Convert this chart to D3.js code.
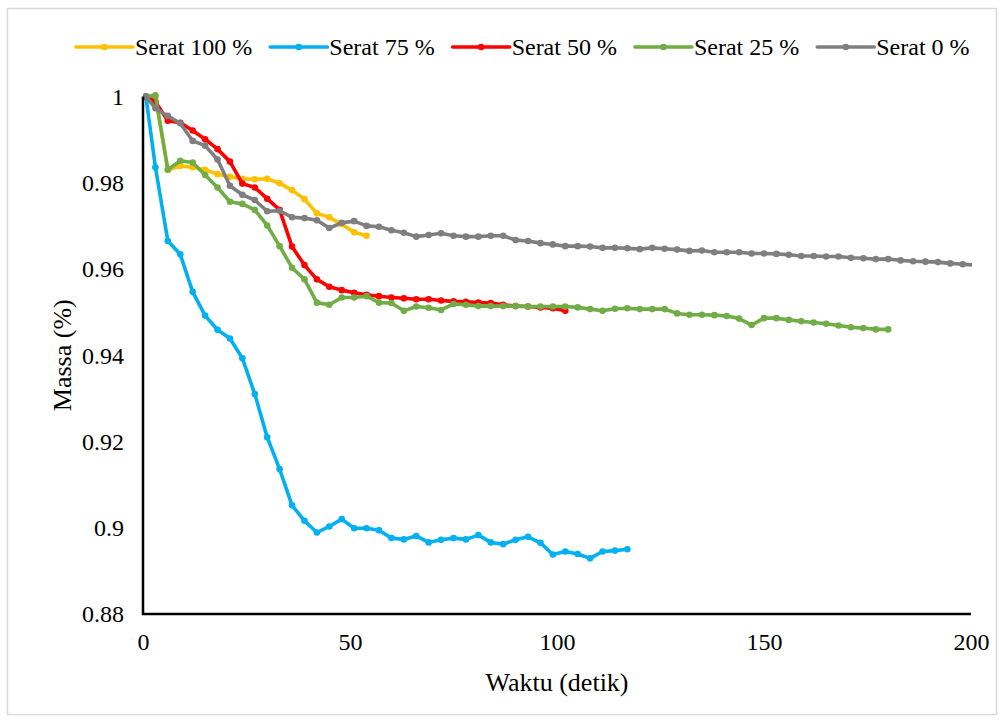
<!DOCTYPE html>
<html>
<head>
<meta charset="utf-8">
<script src="https://cdn.jsdelivr.net/npm/d3@7"></script>
<style>
  html, body { margin: 0; padding: 0; background: #fff; }
  svg { display: block; }
  text { font-family: "Liberation Serif", "Times New Roman", serif; fill: #000; }
</style>
</head>
<body>
<svg id="chart" width="1004" height="722"></svg>
<script>
// ---- data ----
const waktu = [0.7, 3, 6, 9, 12, 15, 18, 21, 24, 27, 30, 33, 36, 39, 42, 45, 48, 51, 54, 57,
  60, 63, 66, 69, 72, 75, 78, 81, 84, 87, 90, 93, 96, 99, 102, 105, 108, 111, 114, 117,
  120, 123, 126, 129, 132, 135, 138, 141, 144, 147, 150, 153, 156, 159, 162, 165, 168, 171, 174, 177,
  180, 183, 186, 189, 192, 195, 198, 201];

const serat100 = [1.0000, 0.9998, 0.9830, 0.9839, 0.9836, 0.9830, 0.9820, 0.9814, 0.9809, 0.9808,
  0.9809, 0.9799, 0.9783, 0.9762, 0.9729, 0.9720, 0.9704, 0.9685, 0.9677];

const serat75 = [1.0000, 0.9836, 0.9665, 0.9634, 0.9547, 0.9492, 0.9459, 0.9439, 0.9393, 0.9310,
  0.9210, 0.9136, 0.9052, 0.9016, 0.8989, 0.9003, 0.9020, 0.8999, 0.8999, 0.8994,
  0.8976, 0.8973, 0.8981, 0.8966, 0.8972, 0.8976, 0.8973, 0.8983, 0.8966, 0.8962,
  0.8972, 0.8979, 0.8965, 0.8938, 0.8945, 0.8939, 0.8929, 0.8945, 0.8947, 0.8950];

const serat50 = [1.0000, 0.9988, 0.9944, 0.9939, 0.9921, 0.9901, 0.9878, 0.9849, 0.9798, 0.9789,
  0.9763, 0.9737, 0.9652, 0.9609, 0.9576, 0.9559, 0.9551, 0.9545, 0.9540, 0.9537,
  0.9534, 0.9532, 0.9530, 0.9530, 0.9527, 0.9525, 0.9524, 0.9522, 0.9521, 0.9517,
  0.9514, 0.9513, 0.9511, 0.9509, 0.9503];

const serat25 = [1.0000, 1.0003, 0.9830, 0.9851, 0.9847, 0.9818, 0.9789, 0.9756, 0.9751, 0.9737,
  0.9701, 0.9653, 0.9603, 0.9576, 0.9522, 0.9517, 0.9534, 0.9534, 0.9537, 0.9522,
  0.9521, 0.9503, 0.9513, 0.9510, 0.9505, 0.9519, 0.9517, 0.9514, 0.9514, 0.9514,
  0.9514, 0.9513, 0.9513, 0.9513, 0.9513, 0.9511, 0.9507, 0.9503, 0.9508, 0.9509,
  0.9507, 0.9507, 0.9507, 0.9497, 0.9494, 0.9494, 0.9493, 0.9491, 0.9485, 0.9470,
  0.9486, 0.9486, 0.9482, 0.9479, 0.9476, 0.9473, 0.9469, 0.9465, 0.9463, 0.9460, 0.9460];

const serat0 = [1.0000, 0.9973, 0.9955, 0.9938, 0.9897, 0.9886, 0.9854, 0.9793, 0.9772, 0.9760,
  0.9734, 0.9735, 0.9720, 0.9718, 0.9713, 0.9695, 0.9707, 0.9711, 0.9700, 0.9698,
  0.9690, 0.9684, 0.9675, 0.9679, 0.9683, 0.9677, 0.9675, 0.9675, 0.9677, 0.9677,
  0.9667, 0.9665, 0.9660, 0.9657, 0.9653, 0.9653, 0.9652, 0.9649, 0.9649, 0.9648,
  0.9646, 0.9649, 0.9647, 0.9645, 0.9642, 0.9643, 0.9639, 0.9639, 0.9639, 0.9636,
  0.9636, 0.9635, 0.9633, 0.9630, 0.9630, 0.9629, 0.9629, 0.9626, 0.9625, 0.9623,
  0.9623, 0.9620, 0.9618, 0.9617, 0.9616, 0.9613, 0.9611, 0.9609];

const seriesNames = ["Serat 100 %", "Serat 75 %", "Serat 50 %", "Serat 25 %", "Serat 0 %"];
const seriesValues = [serat100, serat75, serat50, serat25, serat0];
const seriesColors = ["#FFC000", "#00B0F0", "#FF0000", "#70AD47", "#7F7F7F"];

const xTicks = [0, 50, 100, 150, 200];
const yTicks = [0.88, 0.9, 0.92, 0.94, 0.96, 0.98, 1];
const xTitle = "Waktu (detik)";
const yTitle = "Massa (%)";

// ---- layout ----
const svg = d3.select("#chart");
const W = 1004, H = 722;
const plot = { left: 143, right: 971, top: 96.5, bottom: 614 };

svg.append("rect").attr("x", 0).attr("y", 0).attr("width", W).attr("height", H).attr("fill", "#fff");
svg.append("rect")
  .attr("x", 7.5).attr("y", 8.5).attr("width", 989).attr("height", 706)
  .attr("fill", "none").attr("stroke", "#D9D9D9").attr("stroke-width", 1.5);

const x = d3.scaleLinear().domain([0, 200]).range([plot.left, plot.right]);
const y = d3.scaleLinear().domain([0.88, 1]).range([plot.bottom, plot.top]);

svg.append("defs").append("clipPath").attr("id", "clip")
  .append("rect")
  .attr("x", plot.left).attr("y", plot.top - 20)
  .attr("width", plot.right - plot.left + 1).attr("height", plot.bottom - plot.top + 20);

// axes (no tick marks, labels only)
const xAxis = d3.axisBottom(x).tickValues(xTicks).tickSize(0).tickPadding(0).tickFormat(d3.format("d"));
const yAxis = d3.axisLeft(y).tickValues(yTicks).tickSize(0).tickPadding(0).tickFormat(d => String(+d.toFixed(2)));

const gx = svg.append("g").attr("transform", `translate(0,${plot.bottom})`).call(xAxis);
gx.select(".domain").remove();
gx.selectAll("text")
  .attr("y", 36).attr("dy", null)
  .style("font-family", '"Liberation Serif", "Times New Roman", serif')
  .style("font-size", "24px").attr("fill", "#000");

const gy = svg.append("g").attr("transform", `translate(${plot.left},0)`).call(yAxis);
gy.select(".domain").remove();
gy.selectAll("text")
  .attr("x", -19).attr("dy", "0.33em")
  .style("font-family", '"Liberation Serif", "Times New Roman", serif')
  .style("font-size", "24px").attr("fill", "#000");

// series
const line = d3.line().x(d => x(d[0])).y(d => y(d[1]));
const gSeries = svg.append("g").attr("clip-path", "url(#clip)");
seriesValues.forEach((vals, i) => {
  const pts = vals.map((v, k) => [waktu[k], v]);
  const g = gSeries.append("g");
  g.append("path").datum(pts)
    .attr("d", line)
    .attr("fill", "none")
    .attr("stroke", seriesColors[i])
    .attr("stroke-width", 3.6)
    .attr("stroke-linejoin", "round")
    .attr("stroke-linecap", "round");
  g.selectAll("circle").data(pts).enter().append("circle")
    .attr("cx", d => x(d[0])).attr("cy", d => y(d[1]))
    .attr("r", 3.3)
    .attr("fill", seriesColors[i]);
});

// axis lines
svg.append("line")
  .attr("x1", plot.left).attr("x2", plot.left)
  .attr("y1", plot.top).attr("y2", plot.bottom + 1)
  .attr("stroke", "#000").attr("stroke-width", 2.5);
svg.append("line")
  .attr("x1", plot.left - 1).attr("x2", plot.right)
  .attr("y1", plot.bottom).attr("y2", plot.bottom)
  .attr("stroke", "#000").attr("stroke-width", 2.5);

// axis titles
svg.append("text")
  .attr("x", (plot.left + plot.right) / 2).attr("y", 691)
  .attr("text-anchor", "middle")
  .style("font-size", "26px")
  .text(xTitle);
svg.append("text")
  .attr("transform", `translate(71,${(plot.top + plot.bottom) / 2}) rotate(-90)`)
  .attr("text-anchor", "middle")
  .style("font-size", "26px")
  .text(yTitle);

// legend
const legendY = 47;
let lx = 76;
const lineLen = 57;
seriesNames.forEach((name, i) => {
  const g = svg.append("g");
  g.append("line")
    .attr("x1", lx).attr("x2", lx + lineLen)
    .attr("y1", legendY).attr("y2", legendY)
    .attr("stroke", seriesColors[i]).attr("stroke-width", 3.6)
    .attr("stroke-linecap", "round");
  g.append("circle").attr("cx", lx + lineLen / 2).attr("cy", legendY).attr("r", 3.3).attr("fill", seriesColors[i]);
  const t = g.append("text")
    .attr("x", lx + lineLen + 2).attr("y", legendY + 8)
    .style("font-size", "24px")
    .text(name);
  const w = t.node().getComputedTextLength();
  lx = lx + lineLen + 2 + w + 18;
});
</script>
</body>
</html>
